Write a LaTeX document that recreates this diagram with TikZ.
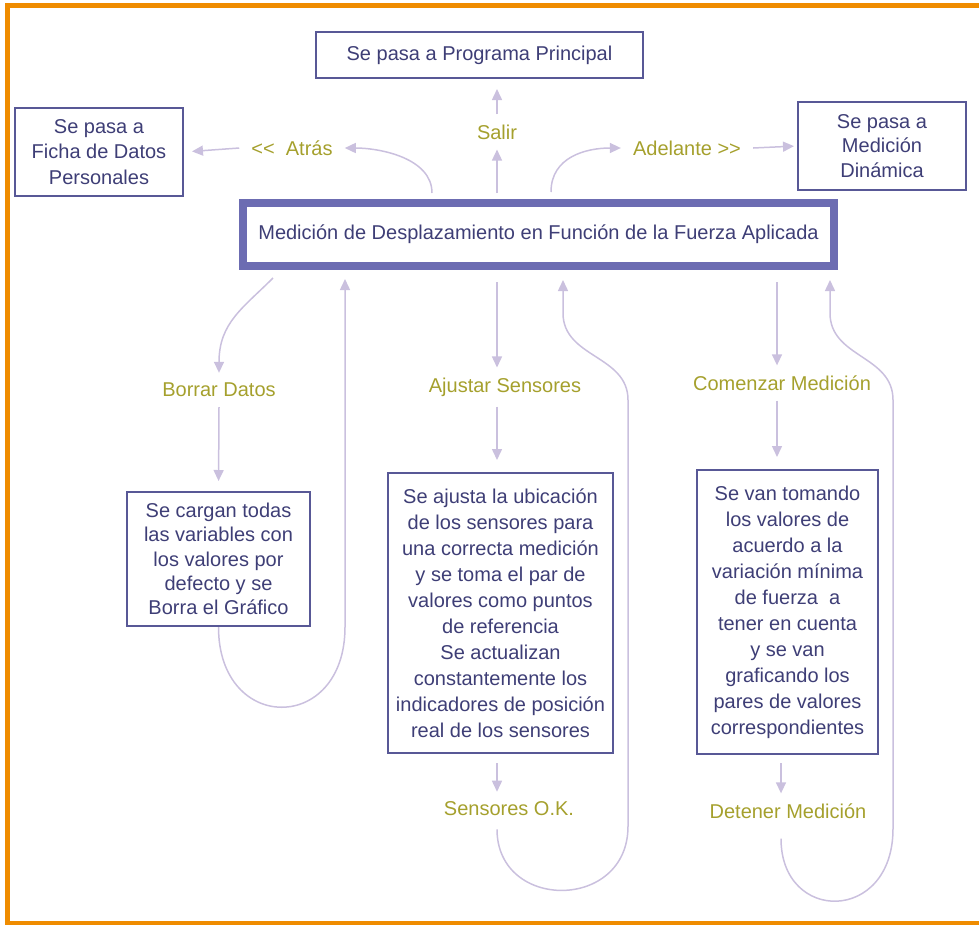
\documentclass[tikz,border=0pt]{standalone}
\usepackage{fontspec}
\setmainfont{Liberation Sans}
\usetikzlibrary{arrows.meta,calc}

\definecolor{frameorange}{RGB}{239,140,0}
\definecolor{boxline}{RGB}{88,88,150}
\definecolor{boxtext}{RGB}{62,62,118}
\definecolor{bandblue}{RGB}{108,108,178}
\definecolor{actioncol}{RGB}{165,160,45}
\definecolor{flowcol}{RGB}{202,192,222}

\tikzset{
        panel/.style={draw=boxline, line width=2pt, text=boxtext, align=center, inner sep=0pt, font=\fontsize{20}{26}\selectfont},
        mainpanel/.style={draw=bandblue, line width=8pt, text=boxtext, inner sep=0pt, font=\fontsize{20}{24}\selectfont},
        action/.style={text=actioncol, inner xsep=12pt, inner ysep=10pt, font=\fontsize{20}{24}\selectfont},
        flow/.style={draw=flowcol, line width=1.5pt, -{Triangle[length=11pt,width=10pt]}},
        frame/.style={draw=frameorange, line width=5pt}
          }

\begin{document}
\begin{tikzpicture}[x=1pt,y=-1pt]
        \useasboundingbox (0,0) rectangle (979,924);
        \draw[frame] (979,5.2) -- (7.5,5.2) -- (7.5,923) -- (979,923);

        % boxes
        \node[panel, minimum width=327pt, minimum height=46pt] (prog) at (479.5,55) {Se pasa a Programa Principal};
        \node[panel, minimum width=168pt, minimum height=88pt, font=\fontsize{20}{25.7}\selectfont] (ficha) at (99,152) {Se pasa a\\Ficha de Datos\\Personales};
        \node[panel, minimum width=168pt, minimum height=88pt, font=\fontsize{20}{24.5}\selectfont] (dinam) at (882,146) {Se pasa a\\Medición\\Dinámica};
        \node[mainpanel, minimum width=591pt, minimum height=63pt] (main) at (538.5,234.5) {Medición de Desplazamiento en Función de la Fuerza Aplicada};
        \node[panel, minimum width=183pt, minimum height=134pt, font=\fontsize{20}{24.3}\selectfont] (borrarbox) at (218.5,559) {Se cargan todas\\las variables con\\los valores por\\defecto y se\\Borra el Gráfico};
        \node[panel, minimum width=225pt, minimum height=280pt] (ajustbox) at (500.5,613) {Se ajusta la ubicación\\de los sensores para\\una correcta medición\\y se toma el par de\\valores como puntos\\de referencia\\Se actualizan\\constantemente los\\indicadores de posición\\real de los sensores};
        \node[panel, minimum width=181pt, minimum height=284pt] (comenzbox) at (787.5,612) {Se van tomando\\los valores de\\acuerdo a la\\variación mínima\\de fuerza~ a\\tener en cuenta\\y se van\\graficando los\\pares de valores\\correspondientes};

        % options
        \node[action] (salir) at (497,132) {Salir};
        \node[action] (atras) at (292,148) {<{}<~ Atrás};
        \node[action] (adelante) at (687,148) {Adelante >{}>};
        \node[action] (borrar) at (219,390) {Borrar Datos};
        \node[action] (ajustar) at (505,387) {Ajustar Sensores};
        \node[action] (comenzar) at (782,383) {Comenzar Medición};
        \node[action] (sensok) at (509,809) {Sensores O.K.};
        \node[action] (detener) at (788,811) {Detener Medición};

        \coordinate (colA) at (345,0);
        \coordinate (colB) at (497,0);
        \coordinate (colC) at (777,0);
        \coordinate (colD) at (781,0);
        \coordinate (railB) at (628,400);
        \coordinate (railD) at (893,400);
        \coordinate (retB) at (563,313);
        \coordinate (retD) at (830,313);

        % top
        \draw[flow, shorten <=6pt] (colB |- main.north) -- (colB |- salir.south);
        \draw[flow, shorten >=10pt] (colB |- salir.north) -- (colB |- prog.south);
        \draw[flow] ($(main.north west)+(193,-6)$) .. controls +(0,-35) and +(35,0) .. (atras.east);
        \draw[flow, shorten >=8pt] (atras.west) -- (ficha.east);
        \draw[flow] ($(main.north west)+(312,-7)$) .. controls +(0,-35) and +(-35,0) .. (adelante.west);
        \draw[flow, shorten >=3pt] (adelante.east) -- (dinam.west);

        % borrar datos
        \draw[flow] ($(main.south west)+(34,8)$) .. controls +(-30,30) and +(0,-50) .. (borrar.north);
        \draw[flow, shorten >=10pt] (borrar.south) -- (borrarbox.north);
        \draw[flow, shorten >=9pt] (borrarbox.south) .. controls +(0,107) and +(0,107) .. (colA |- borrarbox.south) -- (colA |- main.south);

        % ajustar sensores
        \draw[flow, shorten <=12pt] (colB |- main.south) -- (colB |- ajustar.north);
        \draw[flow, shorten >=12pt] (colB |- ajustar.south) -- (colB |- ajustbox.north);
        \draw[flow, shorten <=9pt] (colB |- ajustbox.south) -- (colB |- sensok.north);
        \draw[flow, shorten <=3pt, shorten >=10pt] (colB |- sensok.south) .. controls +(0,85) and +(0,85) .. (railB |- sensok.south) -- (railB) .. controls +(0,-45) and +(0,45) .. (retB) -- (retB |- main.south);

        % comenzar medicion
        \draw[flow, shorten <=12pt] (colC |- main.south) -- (colC |- comenzar.north);
        \draw[flow, shorten >=12pt] (colC |- comenzar.south) -- (colC |- comenzbox.north);
        \draw[flow, shorten <=8pt] (colD |- comenzbox.south) -- (colD |- detener.north);
        \draw[flow, shorten <=10pt, shorten >=10pt] (colD |- detener.south) .. controls +(0,95) and +(0,95) .. (railD |- detener.south) -- (railD) .. controls +(0,-45) and +(0,45) .. (retD) -- (retD |- main.south);
\end{tikzpicture}
\end{document}
